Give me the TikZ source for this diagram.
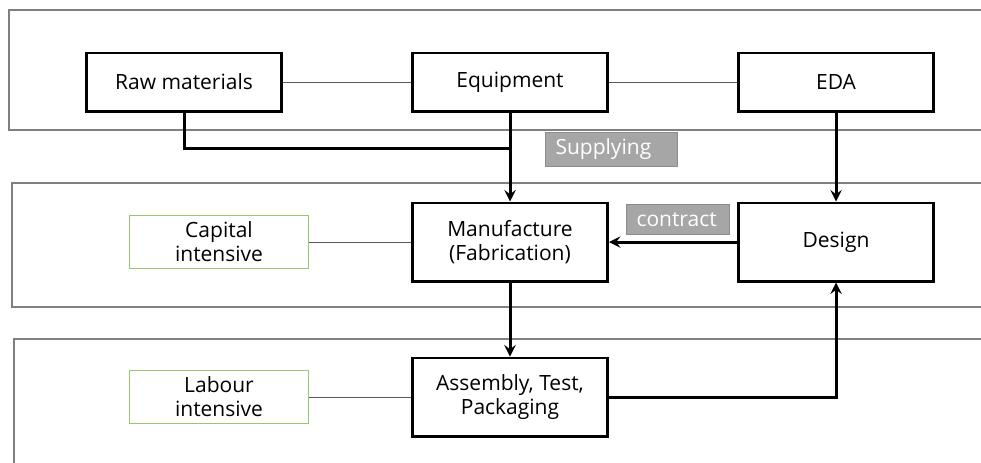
\documentclass[tikz,border=0pt]{standalone}
\usepackage{fontspec}
\setmainfont{Open Sans}
\usepackage{tikz}
\usetikzlibrary{arrows,shapes,positioning}
\definecolor{bandgray}{RGB}{128,128,128}
\definecolor{linkgray}{RGB}{90,90,90}
\definecolor{boxgreen}{RGB}{150,200,110}
\definecolor{tagfill}{RGB}{166,166,166}
\definecolor{tagline}{RGB}{140,140,140}

\begin{document}
\begin{tikzpicture}[x=0.5pt,y=0.5pt,shape=rectangle,>=stealth,
font=\fontsize{10.5}{12}\selectfont,
stage/.style={draw, line width=1.3pt, minimum width=97.7pt, align=center},
trait/.style={draw=boxgreen, line width=0.6pt, minimum width=89.4pt,
minimum height=26pt, align=center},
tag/.style={draw=tagline, fill=tagfill, text=white, line width=0.5pt,
anchor=west, inner xsep=5pt, minimum height=15pt, align=left},
band/.style={draw=bandgray, line width=1.1pt},
link/.style={draw=linkgray, line width=0.5pt},
flow/.style={line width=1.5pt}]
\useasboundingbox (0,0) rectangle (981,-462);

% bands
\draw[band] (1000,-10) -- (9,-10) -- (9,-130) -- (1000,-130);
\draw[band] (1000,-183) -- (12,-183) -- (12,-307) -- (1000,-307);
\draw[band] (1000,-339) -- (14,-339) -- (14,-480);

\node (raw) [stage, minimum height=29.2pt] at (184,-82) {Raw materials};
\node (equip) [stage, minimum height=29.2pt, node distance=163pt,
right of=raw] {Equipment};
\node (eda) [stage, minimum height=29.2pt, node distance=163pt,
right of=equip] {EDA};
\node (fab) [stage, minimum height=39.2pt, node distance=80pt,
below of=equip] {Manufacture\\(Fabrication)};
\node (design) [stage, minimum height=39.2pt, node distance=80pt,
below of=eda] {Design};
\node (atp) [stage, minimum height=39.2pt, node distance=77.5pt,
below of=fab] {Assembly, Test,\\Packaging};
\node (capital) [trait, node distance=145.5pt, left of=fab]
{Capital\\intensive};
\node (labour) [trait, node distance=145.5pt, left of=atp]
{Labour\\intensive};

\node (supply) [tag, text width=56pt] at (545,-149.5) {Supplying};
\node (contract) [tag, text width=41.5pt] at (626,-219.5) {contract};

\coordinate (join) at (equip.south |- 0,-148);

\draw[link] (raw) -- (equip);
\draw[link] (equip) -- (eda);
\draw[link] (capital) -- (fab);
\draw[link] (labour) -- (atp);

\draw[flow] (raw.south) |- (join);
\draw[flow,->] (equip) -- (fab);
\draw[flow,->] (eda) -- (design);
\draw[flow,->] (design) -- (fab);
\draw[flow,->] (fab) -- (atp);
\draw[flow,->] (atp) -| (design);
\end{tikzpicture}
\end{document}
